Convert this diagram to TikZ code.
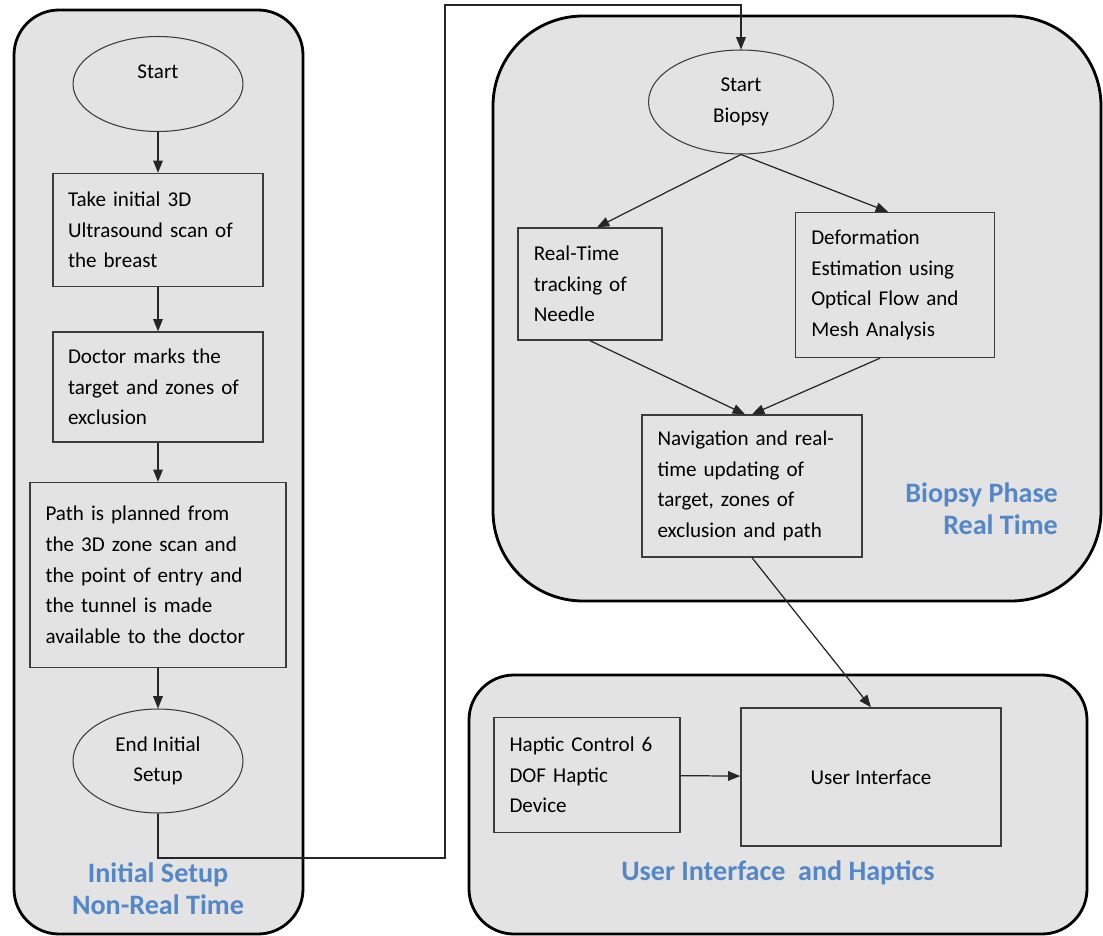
\documentclass[tikz,border=0pt]{standalone}
\usepackage{fontspec}
\setmainfont{Carlito}
\usetikzlibrary{positioning, arrows.meta, shapes.geometric}

\definecolor{phasegray}{RGB}{227,227,227}
\definecolor{boxline}{RGB}{60,60,60}
\definecolor{phaseblue}{RGB}{84,135,200}

\tikzset{
  phase/.style={draw=black, line width=1.6pt, fill=phasegray},
  stepbox/.style={draw=boxline, line width=0.8pt, rectangle, inner sep=0pt,
      font=\fontsize{12}{17.5}\selectfont, align=left},
  terminal/.style={draw=boxline, line width=0.6pt, ellipse, inner sep=0pt,
      font=\fontsize{12}{17.5}\selectfont, align=center},
  phaselabel/.style={text=phaseblue, font=\fontsize{16}{18}\selectfont\bfseries},
  flow/.style={-{Triangle[length=7pt,width=5.5pt]}, line width=0.7pt, draw=black!85}
}

\begin{document}
\begin{tikzpicture}[x=0.02cm, y=-0.02cm]
    \useasboundingbox (0,0) rectangle (1103,936);

    % phase regions
    \draw[phase, rounded corners=0.9cm] (14,10) rectangle (303,934);
    \draw[phase, rounded corners=1.8cm] (493,16) rectangle (1101,601);
    \draw[phase, rounded corners=0.9cm] (469,675) rectangle (1087,934);

    % initial setup
    \node[terminal, minimum width=3.4cm, minimum height=1.9cm] (start) at (158,84) {Start\\[-3pt]\mbox{}};
    \node[stepbox, minimum width=4.2cm, minimum height=2.26cm, text width=3.6cm] (scan) at (158,230)
        {Take initial 3D\\Ultrasound scan of\\the breast};
    \node[stepbox, minimum width=4.2cm, minimum height=2.2cm, text width=3.6cm] (marks) at (158,387)
        {Doctor marks the\\target and zones of\\exclusion};
    \node[stepbox, minimum width=5.12cm, minimum height=3.7cm, text width=4.5cm] (plan) at (158,575)
        {Path is planned from\\the 3D zone scan and\\the point of entry and\\the tunnel is made\\available to the doctor};
    \node[terminal, minimum width=3.4cm, minimum height=2.08cm] (endsetup) at (158,761)
        {End Initial\\Setup};
    \node[phaselabel, align=center] (setuplabel) at (158,889) {Initial Setup\\Non-Real Time};

    % biopsy phase
    \node[terminal, minimum width=3.7cm, minimum height=2.08cm] (startb) at (741,102)
        {Start\\Biopsy};
    \node[stepbox, minimum width=2.88cm, minimum height=2.24cm, text width=2.25cm] (track) at (590,284)
        {Real-Time\\tracking of\\Needle};
    \node[stepbox, minimum width=3.98cm, minimum height=2.9cm, text width=3.35cm] (deform) at (895,285)
        {Deformation\\Estimation using\\Optical Flow and\\Mesh Analysis};
    \node[stepbox, minimum width=4.4cm, minimum height=2.84cm, text width=3.78cm] (nav) at (752,486)
        {Navigation and real-\\time updating of\\target, zones of\\exclusion and path};
    \node[phaselabel, align=right, anchor=east] (biopsylabel) at (1064,509) {Biopsy Phase\\Real Time};

    % user interface
    \node[stepbox, minimum width=3.72cm, minimum height=2.3cm, text width=3.1cm] (haptic) at (587,775)
        {Haptic Control 6\\DOF Haptic\\Device};
    \node[stepbox, minimum width=5.2cm, minimum height=2.76cm, align=center] (ui) at (871,777)
        {User Interface};
    \node[phaselabel] (uilabel) at (778,873) {User Interface\ \ and Haptics};

    \coordinate (bendlow) at (445,858);
    \coordinate (bendtop) at (445,5);

    \draw[flow] (start) -- (scan);
    \draw[flow] (scan) -- (marks);
    \draw[flow] (marks) -- (plan);
    \draw[flow] (plan) -- (endsetup);
    \draw[flow] (endsetup.south) |- (bendlow) -- (bendtop) -| (startb.north);
    \draw[flow] (startb.south) -- ([xshift=0.14cm]track.north);
    \draw[flow] (startb.south) -- ([xshift=-0.14cm]deform.north);
    \draw[flow] (track.south) -- ([xshift=-0.14cm]nav.north);
    \draw[flow] ([xshift=-0.3cm]deform.south) -- (nav.north);
    \draw[flow] (nav.south) -- (ui.north);
    \draw[flow] (haptic) -- (ui);
\end{tikzpicture}
\end{document}
